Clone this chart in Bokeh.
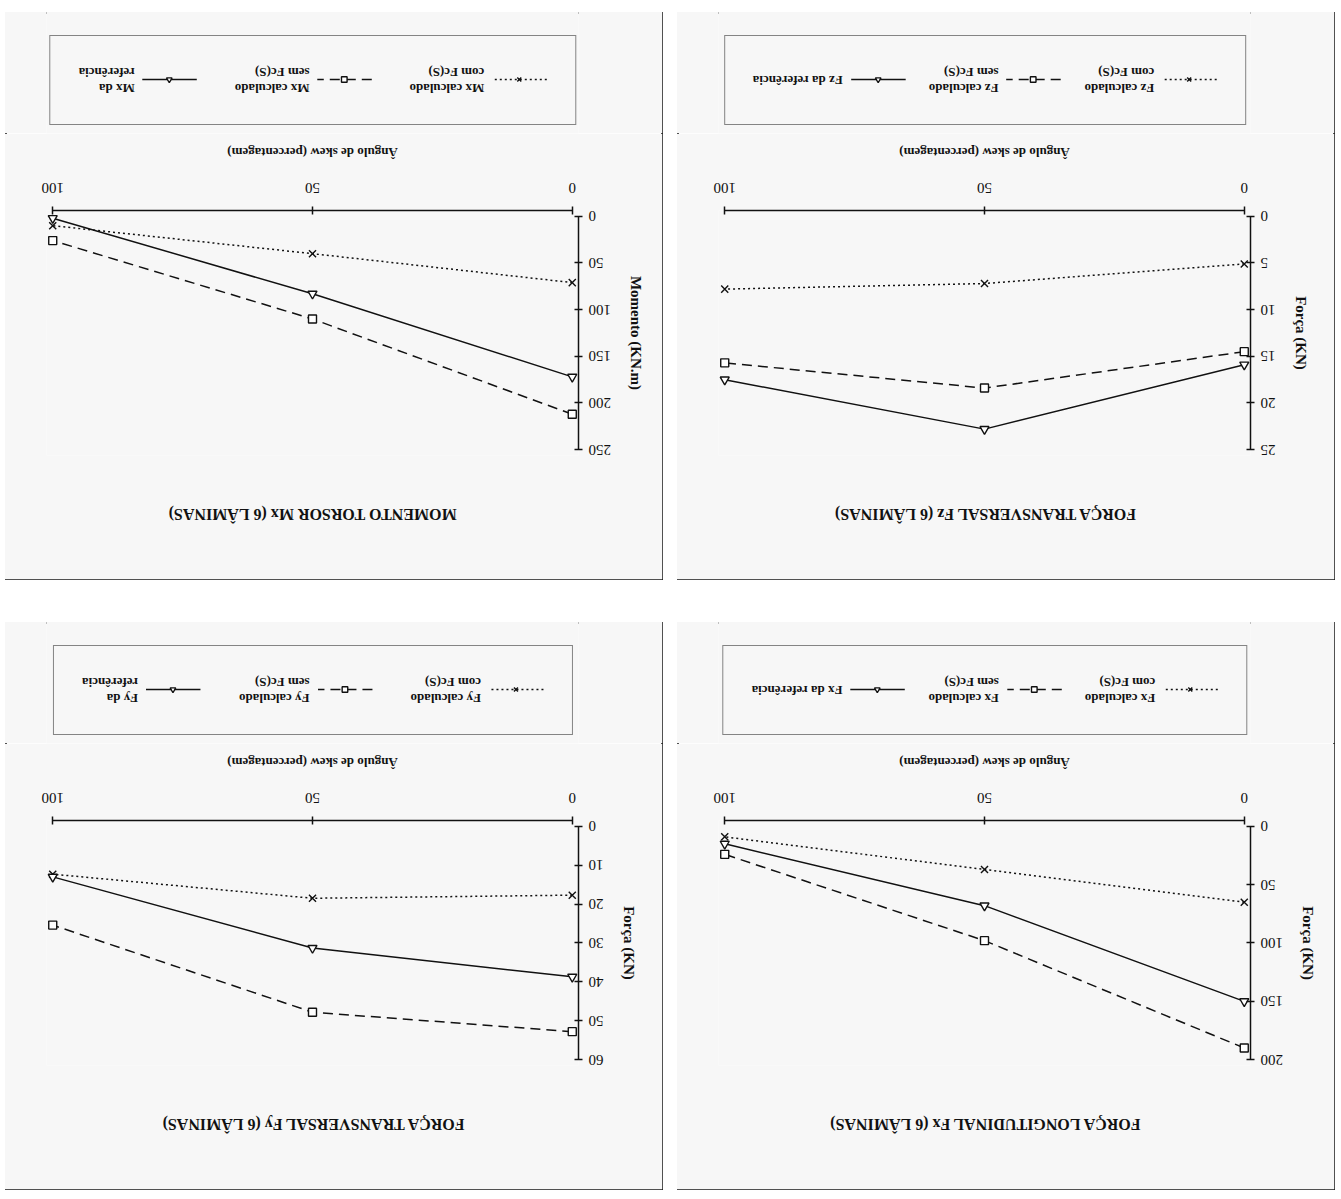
from bokeh.plotting import figure
from bokeh.models import Range1d, FixedTicker, Legend, LegendItem
from bokeh.layouts import column, row
from bokeh.embed import file_html
from bokeh.resources import INLINE

# ---- data ----
skew = [0, 50, 100]

mx_com = [71, 40, 10]
mx_sem = [212, 110, 26]
mx_ref = [172, 83, 2]

fz_com = [5.1, 7.2, 7.8]
fz_sem = [14.5, 18.4, 15.7]
fz_ref = [15.9, 22.8, 17.5]

fy_com = [17.7, 18.5, 12.3]
fy_sem = [52.8, 47.8, 25.4]
fy_ref = [38.7, 31.3, 13.0]

fx_com = [65, 37, 9]
fx_sem = [190, 98, 24]
fx_ref = [150, 68, 15]

x_ticks = [0, 50, 100]
mx_ticks = [0, 50, 100, 150, 200, 250]
fz_ticks = [0, 5, 10, 15, 20, 25]
fy_ticks = [0, 10, 20, 30, 40, 50, 60]
fx_ticks = [0, 50, 100, 150, 200]

SERIF = "Liberation Serif"
PAPER = "#f7f7f7"
INK = "#111111"

STYLES = dict(
    com=dict(dash="2 3", marker="x", size=10, fill=None),
    sem=dict(dash="10 6", marker="square", size=8, fill="white"),
    ref=dict(dash="solid", marker="triangle", size=9, fill="white"),
)


def draw_series(p, xs, ys, st):
    ln = p.line(xs, ys, line_color=INK, line_width=1.5, line_dash=st["dash"])
    sc = p.scatter(xs, ys, marker=st["marker"], size=st["size"], line_color=INK,
                   line_width=1.4, fill_color=st["fill"])
    return [ln, sc]


def panel(title, ylabel, yticks, com, sem, ref, sym, ref_label, item_gap):
    ymax = yticks[-1]
    ypad = ymax * 0.025
    p = figure(width=658, height=446, output_backend="svg", toolbar_location=None,
               x_range=Range1d(-1.2, 101.2), y_range=Range1d(-ypad, ymax + ypad),
               min_border_left=84, min_border_right=42, min_border_top=124, min_border_bottom=77,
               background_fill_color=PAPER, border_fill_color=PAPER)
    p.outline_line_color = None
    p.grid.visible = False

    p.title.text = title
    p.title.text_font = SERIF
    p.title.text_font_size = "16px"
    p.title.text_font_style = "bold"
    p.title.text_color = INK
    p.title.align = "center"
    p.title.standoff = 100

    for ax in (p.xaxis[0], p.yaxis[0]):
        ax.major_label_text_font = SERIF
        ax.major_label_text_font_size = "15px"
        ax.major_label_text_color = INK
        ax.axis_label_text_font = SERIF
        ax.axis_label_text_font_style = "bold"
        ax.axis_label_text_color = INK
        ax.axis_line_color = INK
        ax.axis_line_width = 1.5
        ax.major_tick_line_color = INK
        ax.major_tick_line_width = 1.5
        ax.major_tick_in = 4
        ax.major_tick_out = 4
        ax.minor_tick_line_color = None

    p.xaxis[0].ticker = FixedTicker(ticks=x_ticks)
    p.xaxis[0].bounds = (0, 100)
    p.xaxis[0].axis_label = "Ângulo de skew (percentagem)"
    p.xaxis[0].axis_label_text_font_size = "13px"
    p.xaxis[0].major_label_standoff = 14
    p.xaxis[0].axis_label_standoff = 20

    p.yaxis[0].ticker = FixedTicker(ticks=yticks)
    p.yaxis[0].bounds = (0, ymax)
    p.yaxis[0].axis_label = ylabel
    p.yaxis[0].axis_label_text_font_size = "15px"
    p.yaxis[0].major_label_standoff = 6
    p.yaxis[0].axis_label_standoff = 14

    draw_series(p, skew, com, STYLES["com"])
    draw_series(p, skew, sem, STYLES["sem"])
    draw_series(p, skew, ref, STYLES["ref"])

    # legend strip under the chart (its own small canvas, same line/marker styles;
    # the sample renderers lie outside its visible range, only the key shows)
    lg = figure(width=658, height=122, output_backend="svg", toolbar_location=None,
                x_range=Range1d(0, 1), y_range=Range1d(0, 1),
                x_axis_location=None, y_axis_location=None, min_border=0,
                background_fill_color=PAPER, border_fill_color=PAPER)
    lg.outline_line_color = None
    lg.grid.visible = False
    off = [5, 6]
    r_com = draw_series(lg, off, off, STYLES["com"])
    r_sem = draw_series(lg, off, off, STYLES["sem"])
    r_ref = draw_series(lg, off, off, STYLES["ref"])
    legend = Legend(items=[
        LegendItem(label=f"{sym} calculado\ncom Fc(S)", renderers=r_com),
        LegendItem(label=f"{sym} calculado\nsem Fc(S)", renderers=r_sem),
        LegendItem(label=ref_label, renderers=r_ref),
    ], orientation="horizontal", location="top_center", margin=9,
        label_text_font=SERIF, label_text_font_size="13px", label_text_font_style="bold",
        label_text_color=INK, glyph_width=55, glyph_height=14, label_standoff=8,
        spacing=item_gap, padding=28,
        border_line_color=INK, border_line_width=1.5, background_fill_alpha=0)
    lg.add_layout(legend, "center")

    return column(p, lg, spacing=0,
                  styles={"outline": "2px solid #1a1a1a", "outline-offset": "-2px"})


p_mx = panel("MOMENTO TORSOR Mx (6 LÂMINAS)", "Momento (KN.m)", mx_ticks,
             mx_com, mx_sem, mx_ref, "Mx", "Mx da\nreferência", 37)
p_fz = panel("FORÇA TRANSVERSAL Fz (6 LÂMINAS)", "Força (KN)", fz_ticks,
             fz_com, fz_sem, fz_ref, "Fz", "Fz da referência", 23)
p_fy = panel("FORÇA TRANSVERSAL Fy (6 LÂMINAS)", "Força (KN)", fy_ticks,
             fy_com, fy_sem, fy_ref, "Fy", "Fy da\nreferência", 38)
p_fx = panel("FORÇA LONGITUDINAL Fx (6 LÂMINAS)", "Força (KN)", fx_ticks,
             fx_com, fx_sem, fx_ref, "Fx", "Fx da referência", 23)

# The scanned page is upside down: lay the panels out in their own orientation
# and turn the whole page by 180 degrees.
layout = column(row(p_fx, p_fy, spacing=14), row(p_fz, p_mx, spacing=14), spacing=42,
                styles={"transform": "translate(5px, 12px) rotate(180deg)"})

open("out.html", "w").write(file_html(layout, INLINE))
